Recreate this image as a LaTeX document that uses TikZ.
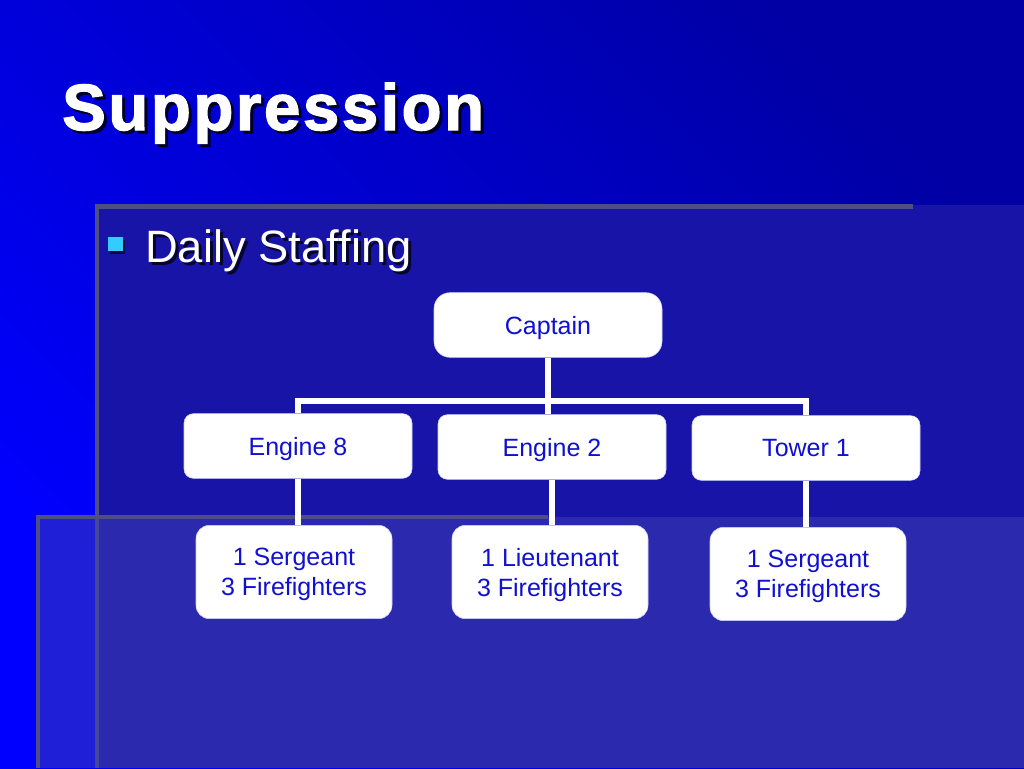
\documentclass[tikz,border=0pt]{standalone}
\usepackage{fontspec}
\setmainfont{Liberation Sans}
\newfontfamily\titlefont[FakeBold=2, LetterSpace=4]{Liberation Sans Bold}
\definecolor{bgbright}{RGB}{0,0,255}
\definecolor{bgdark}{RGB}{0,0,165}
\definecolor{panelone}{RGB}{24,20,168}
\definecolor{paneltwo}{RGB}{62,62,178}
\definecolor{paneledge}{RGB}{78,78,130}
\definecolor{bulletcyan}{RGB}{51,204,255}
\definecolor{boxtext}{RGB}{16,16,208}
\definecolor{boxedge}{RGB}{205,205,250}
\begin{document}
\begin{tikzpicture}[x=0.75pt, y=-0.75pt,
		unitbox/.style={draw=boxedge, fill=white, rounded corners=7pt, minimum width=171pt, minimum height=48.5pt, inner sep=0pt, text=boxtext, text depth=0pt, font=\fontsize{18.75}{22.5}\selectfont},
		capbox/.style={unitbox, rounded corners=12pt},
		crewbox/.style={unitbox, rounded corners=10pt, minimum width=147pt, minimum height=70pt, align=center},
		link/.style={draw=white, line width=4pt}]
	
	\useasboundingbox (0,0) rectangle (1024,768);
	
	% background and panels
	\shade[top color=bgbright, bottom color=bgdark, shading angle=135] (0,0) rectangle (1024,768);
	\fill[panelone] (95,205) rectangle (1024,768);
	\draw[paneledge, line width=3pt] (96.5,205) -- (96.5,768);
	\draw[paneledge, line width=4pt] (95,206.5) -- (913,206.5);
	\fill[paneltwo, fill opacity=0.5] (36,517) rectangle (1024,768);
	\draw[paneledge, line width=3pt] (38,517) -- (38,768);
	\draw[paneledge, line width=3pt] (36,517) -- (548,517);
	
	% title
	\node[anchor=base west, inner sep=0pt, text=black, opacity=0.75, font=\titlefont\fontsize{49}{58}\selectfont] at (65,133) {Suppression};
	\node (title) [anchor=base west, inner sep=0pt, text=white, font=\titlefont\fontsize{49}{58}\selectfont] at (62,130) {Suppression};
	
	% bullet
	\fill[black, opacity=0.6] (110,240) rectangle (125,254);
	\fill[bulletcyan] (108,237) rectangle (123,251);
	\node[anchor=base west, inner sep=0pt, text=black, opacity=0.75, font=\fontsize{34}{40}\selectfont] at (148,265) {Daily Staffing};
	\node (bullet) [anchor=base west, inner sep=0pt, text=white, font=\fontsize{34}{40}\selectfont] at (145,262) {Daily Staffing};
	
	% chart
	\node (cap) [capbox] at (548,325) {Captain};
	\node (e8) [unitbox] at (298,446) {Engine 8};
	\node (e2) [unitbox] at (552,447) {Engine 2};
	\node (t1) [unitbox] at (806,448) {Tower 1};
	\node (e8crew) [crewbox] at (294,572) {1 Sergeant\\3 Firefighters};
	\node (e2crew) [crewbox] at (550,572) {1 Lieutenant\\3 Firefighters};
	\node (t1crew) [crewbox] at (808,574) {1 Sergeant\\3 Firefighters};
	
	\coordinate (bus) at (548,401);
	\draw[link] (cap.south) -- (cap.south |- e2.north);
	\draw[link] (e8.north) -- (e8.north |- bus) -- (t1.north |- bus) -- (t1.north);
	\draw[link] (e8.south) -- (e8.south |- e8crew.north);
	\draw[link] (e2.south) -- (e2.south |- e2crew.north);
	\draw[link] (t1.south) -- (t1.south |- t1crew.north);
	
\end{tikzpicture}
\end{document}
